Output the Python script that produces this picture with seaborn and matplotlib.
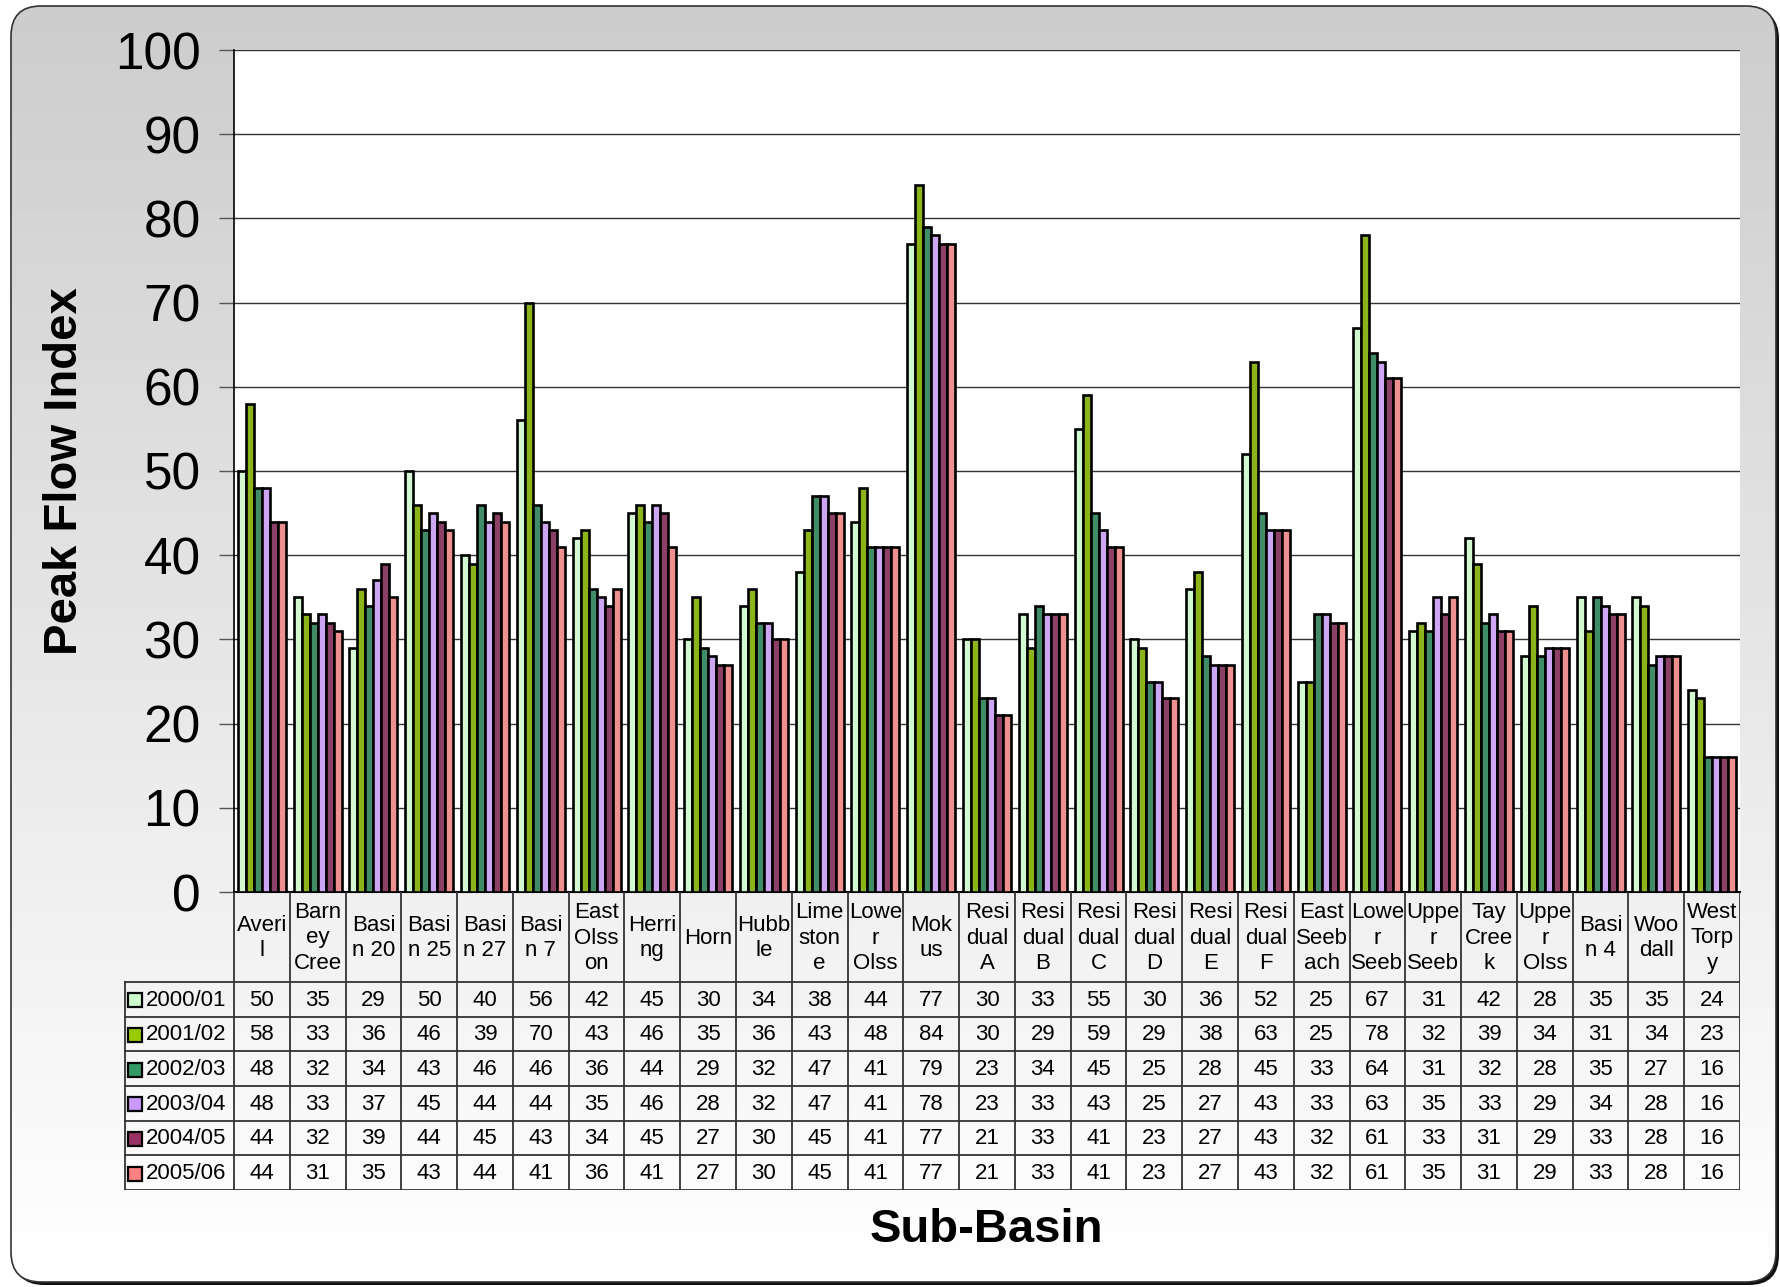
import numpy as np
import pandas as pd
import matplotlib
matplotlib.use("Agg")
import matplotlib.pyplot as plt
from matplotlib.patches import FancyBboxPatch, Rectangle
import seaborn as sns

plt.rcParams['font.family'] = ['Liberation Sans', 'DejaVu Sans']

categories = ["Averi\nl", "Barn\ney\nCree", "Basi\nn 20", "Basi\nn 25", "Basi\nn 27", "Basi\nn 7",
              "East\nOlss\non", "Herri\nng", "Horn", "Hubb\nle", "Lime\nston\ne", "Lowe\nr\nOlss",
              "Mok\nus", "Resi\ndual\nA", "Resi\ndual\nB", "Resi\ndual\nC", "Resi\ndual\nD",
              "Resi\ndual\nE", "Resi\ndual\nF", "East\nSeeb\nach", "Lowe\nr\nSeeb", "Uppe\nr\nSeeb",
              "Tay\nCree\nk", "Uppe\nr\nOlss", "Basi\nn 4", "Woo\ndall", "West\nTorp\ny"]
years = ["2000/01", "2001/02", "2002/03", "2003/04", "2004/05", "2005/06"]

v2000 = [50, 35, 29, 50, 40, 56, 42, 45, 30, 34, 38, 44, 77, 30, 33, 55, 30, 36, 52, 25, 67, 31, 42, 28, 35, 35, 24]
v2001 = [58, 33, 36, 46, 39, 70, 43, 46, 35, 36, 43, 48, 84, 30, 29, 59, 29, 38, 63, 25, 78, 32, 39, 34, 31, 34, 23]
v2002 = [48, 32, 34, 43, 46, 46, 36, 44, 29, 32, 47, 41, 79, 23, 34, 45, 25, 28, 45, 33, 64, 31, 32, 28, 35, 27, 16]
v2003 = [48, 33, 37, 45, 44, 44, 35, 46, 28, 32, 47, 41, 78, 23, 33, 43, 25, 27, 43, 33, 63, 35, 33, 29, 34, 28, 16]
v2004 = [44, 32, 39, 44, 45, 43, 34, 45, 27, 30, 45, 41, 77, 21, 33, 41, 23, 27, 43, 32, 61, 33, 31, 29, 33, 28, 16]
v2005 = [44, 31, 35, 43, 44, 41, 36, 41, 27, 30, 45, 41, 77, 21, 33, 41, 23, 27, 43, 32, 61, 35, 31, 29, 33, 28, 16]
series = [v2000, v2001, v2002, v2003, v2004, v2005]

colors = ["#ccffcc", "#99cc00", "#339966", "#cc99ff", "#993366", "#ff8080"]

rows = []
for y, vals in zip(years, series):
    for c, v in zip(categories, vals):
        rows.append({"Sub-Basin": c, "Year": y, "Value": v})
df = pd.DataFrame(rows)

W, H = 1781, 1287
fig = plt.figure(figsize=(W / 100, H / 100), dpi=100)
fig.patch.set_facecolor("white")

def fx(px):
    return px / W

def fy(py):
    return 1 - py / H

# background with rounded frame and gradient
bg = fig.add_axes([0, 0, 1, 1], zorder=-10)
bg.set_xlim(0, W)
bg.set_ylim(H, 0)
bg.axis("off")
fl, ft, fr, fb = 11, 6, W - 5, H - 5
shadow = FancyBboxPatch((fl + 3, ft + 3), fr - fl, fb - ft,
                        boxstyle="round,pad=0,rounding_size=30",
                        facecolor="#111111", edgecolor="none")
bg.add_patch(shadow)
frame = FancyBboxPatch((fl, ft), fr - fl, fb - ft,
                       boxstyle="round,pad=0,rounding_size=30",
                       facecolor="none", edgecolor="#333333", linewidth=1.2, zorder=3)
bg.add_patch(frame)
grad = np.linspace(0.80, 1.0, 256).reshape(-1, 1)
im = bg.imshow(grad, cmap="gray", vmin=0, vmax=1, extent=(fl, fr, fb, ft),
               aspect="auto", zorder=2)
im.set_clip_path(frame)

# main chart axes
ax_l, ax_r, ax_t, ax_b = 234, 1740, 50, 892
ax = fig.add_axes([fx(ax_l), fy(ax_b), fx(ax_r - ax_l), (ax_b - ax_t) / H])
ax.set_facecolor("white")
sns.barplot(data=df, x="Sub-Basin", y="Value", hue="Year", order=categories,
            hue_order=years, palette=colors, width=0.86, edgecolor="black",
            linewidth=1.9, legend=False, ax=ax, zorder=3)
ax.set_xlim(-0.5, len(categories) - 0.5)
ax.set_ylim(0, 100)
ax.set_yticks(range(0, 101, 10))
ax.yaxis.grid(True, color="#333333", linewidth=1.0, zorder=0)
ax.set_axisbelow(True)
ax.set_xticks([])
ax.set_xlabel("")
ax.set_ylabel("")
for s in ["top", "right"]:
    ax.spines[s].set_visible(False)
ax.spines["left"].set_color("black")
ax.spines["bottom"].set_color("black")
ax.spines["left"].set_linewidth(1.2)
ax.spines["bottom"].set_linewidth(1.5)
ax.tick_params(axis="y", length=11, width=1.0, color="#555555", pad=13, labelsize=37)

fig.text(fx(65), fy(471), "Peak Flow Index", rotation=90, ha="center", va="center",
         fontsize=34, fontweight="bold")
fig.text(fx(986), fy(1230), "Sub-Basin", ha="center", va="center",
         fontsize=34, fontweight="bold")

# data table
tab_l, tab_t, tab_b = 124, 892, 1190
head_b = 982
unit = (ax_r - ax_l) / len(categories)
leg_w = (ax_l - tab_l) / unit
tab = fig.add_axes([fx(tab_l), fy(tab_b), fx(ax_r - tab_l), (tab_b - tab_t) / H])
tab.set_xlim(-0.5 - leg_w, len(categories) - 0.5)
tab.set_ylim(tab_b, tab_t)
tab.axis("off")
tab.patch.set_alpha(0)

lc = "#333333"
lw = 1.3
n = len(categories)
row_h = (tab_b - head_b) / len(years)
# vertical lines
for i in range(n + 1):
    tab.plot([i - 0.5, i - 0.5], [tab_t, tab_b], color=lc, lw=lw, solid_capstyle="butt")
tab.plot([-0.5 - leg_w + 0.02, -0.5 - leg_w + 0.02], [head_b, tab_b], color=lc, lw=lw)
# horizontal lines
for r in range(len(years) + 1):
    yy = head_b + r * row_h
    tab.plot([-0.5 - leg_w + 0.02, n - 0.5], [yy, yy], color=lc, lw=lw)

# headers
for i, c in enumerate(categories):
    tab.text(i, (tab_t + head_b) / 2 + 1, c, ha="center", va="center", fontsize=16,
             linespacing=1.3)

# rows
for r, (y, vals) in enumerate(zip(years, series)):
    yc = head_b + (r + 0.5) * row_h
    for i, v in enumerate(vals):
        tab.text(i, yc + 1, str(v), ha="center", va="center", fontsize=16)
    # legend key
    kx = -0.5 - leg_w + (128 - tab_l) / unit
    ks = 14
    tab.add_patch(Rectangle((kx, yc - ks / 2 + 1), ks / unit, ks, facecolor=colors[r],
                            edgecolor="black", linewidth=1.6, zorder=4))
    tab.text(-0.5 - leg_w + (146 - tab_l) / unit, yc + 1, y, ha="left", va="center",
             fontsize=16)

fig.savefig("out.png", dpi=100)
